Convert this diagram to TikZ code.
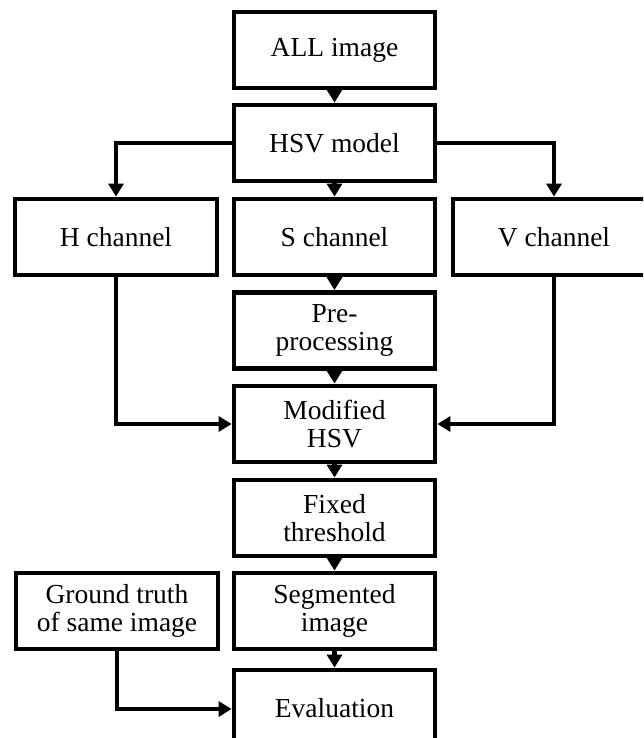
\documentclass[tikz,border=0pt]{standalone}
\usepackage{fontspec}
\setmainfont{Liberation Serif}
\usetikzlibrary{arrows.meta}
\begin{document}
\begin{tikzpicture}[x=1pt,y=-1pt,
  box/.style={draw, line width=4.8pt, minimum width=201pt, minimum height=76pt,
    inner sep=0pt, align=center, font=\fontsize{27.5}{27.5}\selectfont},
  conn/.style={line width=4.2pt, -{Triangle[length=13pt,width=15pt]}}]
\clip (0,0) rectangle (643,738);
\useasboundingbox (0,0) rectangle (643,738);
\node[box] (all) at (334.5,50) {ALL image};
\node[box] (hsv) at (334.5,143) {HSV model};
\node[box, minimum width=202pt] (h) at (116,237) {H channel};
\node[box] (s) at (334.5,237) {S channel};
\node[box, minimum width=202pt] (v) at (554,237) {V channel};
\node[box] (pre) at (334.5,330.5) {Pre-\\processing};
\node[box] (mod) at (334.5,424) {Modified\\HSV};
\node[box] (fix) at (334.5,518) {Fixed\\threshold};
\node[box] (seg) at (334.5,611) {Segmented\\image};
\node[box, minimum width=202pt] (gt) at (117,611) {Ground truth\\of same image};
\node[box] (eval) at (334.5,708) {Evaluation};
\draw[conn] (all) -- (hsv);
\draw[conn] (hsv) -- (s);
\draw[conn] (hsv.west) -| (h.north);
\draw[conn] (hsv.east) -| (v.north);
\draw[conn] (s) -- (pre);
\draw[conn] (pre) -- (mod);
\draw[conn] (h.south) |- (mod.west);
\draw[conn] (v.south) |- (mod.east);
\draw[conn] (mod) -- (fix);
\draw[conn] (fix) -- (seg);
\draw[conn] (seg) -- (eval);
\draw[conn] (gt.south) |- ([yshift=-1pt]eval.west);
\end{tikzpicture}
\end{document}
